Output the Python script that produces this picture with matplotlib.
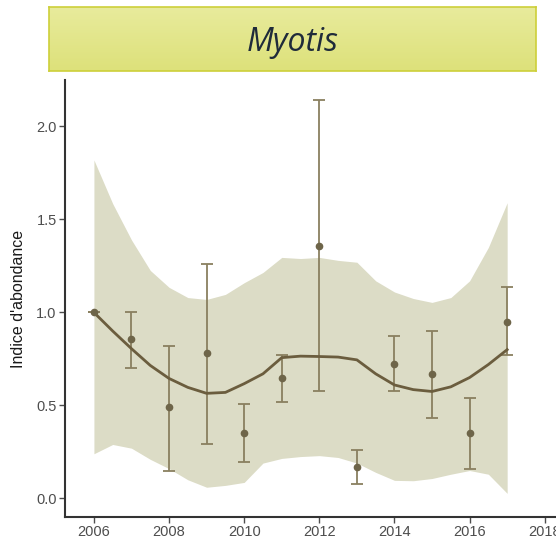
import numpy as np
import matplotlib
matplotlib.use("Agg")
import matplotlib.pyplot as plt
from matplotlib.colors import LinearSegmentedColormap

plt.rcParams["font.family"] = ["Liberation Sans", "DejaVu Sans"]

# yearly abundance index with error bars
years = [2006, 2007, 2008, 2009, 2010, 2011, 2012, 2013, 2014, 2015, 2016, 2017]
index = [1.00, 0.855, 0.49, 0.78, 0.35, 0.645, 1.36, 0.167, 0.725, 0.67, 0.35, 0.95]
err_low = [1.00, 0.70, 0.15, 0.29, 0.195, 0.52, 0.575, 0.075, 0.575, 0.43, 0.156, 0.77]
err_high = [1.00, 1.005, 0.82, 1.26, 0.51, 0.77, 2.145, 0.26, 0.876, 0.90, 0.54, 1.135]

# smoothed trend and its confidence band (read every half year)
smooth_x = [2006, 2006.5, 2007, 2007.5, 2008, 2008.5, 2009, 2009.5, 2010, 2010.5, 2011, 2011.5,
            2012, 2012.5, 2013, 2013.5, 2014, 2014.5, 2015, 2015.5, 2016, 2016.5, 2017]
smooth_y = [1.00, 0.90, 0.805, 0.715, 0.645, 0.597, 0.565, 0.57, 0.617, 0.67, 0.757, 0.765,
            0.763, 0.76, 0.745, 0.67, 0.61, 0.585, 0.575, 0.60, 0.65, 0.72, 0.80]
band_high = [1.82, 1.585, 1.39, 1.226, 1.135, 1.08, 1.07, 1.097, 1.16, 1.215, 1.296, 1.29,
             1.296, 1.28, 1.27, 1.17, 1.11, 1.075, 1.054, 1.08, 1.17, 1.35, 1.59]
band_low = [0.24, 0.29, 0.27, 0.21, 0.16, 0.10, 0.06, 0.07, 0.086, 0.19, 0.215, 0.225,
            0.23, 0.22, 0.19, 0.14, 0.097, 0.095, 0.107, 0.13, 0.15, 0.13, 0.027]

x_ticks = [2006, 2008, 2010, 2012, 2014, 2016, 2018]
y_ticks = [0.0, 0.5, 1.0, 1.5, 2.0]

fig = plt.figure(figsize=(5.56, 5.38), dpi=100)

# title banner with a soft vertical gradient
tax = fig.add_axes([49 / 556, 1 - 71 / 538, 487 / 556, 64 / 538])
grad = np.linspace(0, 1, 100).reshape(-1, 1)
cmap = LinearSegmentedColormap.from_list("banner", ["#e8eb9c", "#dde17a"])
tax.imshow(grad, aspect="auto", cmap=cmap, extent=[0, 1, 0, 1], origin="upper")
tax.set_xlim(0, 1)
tax.set_ylim(0, 1)
tax.set_xticks([])
tax.set_yticks([])
for s in tax.spines.values():
    s.set_color("#cdcf3a")
    s.set_linewidth(1.2)
tax.text(0.5, 0.45, "Myotis", ha="center", va="center", fontsize=23, style="italic",
         family=["Open Sans", "DejaVu Sans"], color="#1f2b3a")

ax = fig.add_axes([65 / 556, 21 / 538, 491 / 556, 437 / 538])
ax.fill_between(smooth_x, band_low, band_high, color="#dcdcc6", lw=0, zorder=1)
ax.plot(smooth_x, smooth_y, color="#6b5d3e", lw=2, zorder=3)

yerr = [np.array(index) - np.array(err_low), np.array(err_high) - np.array(index)]
ax.errorbar(years, index, yerr=yerr, fmt="none", ecolor="#8a8060", elinewidth=1.3,
            capsize=4, capthick=1.3, zorder=2)
ax.plot(years, index, "o", color="#6e6549", ms=4.5, zorder=4)

ax.set_xlim(2005.23, 2018.3)
ax.set_ylim(-0.10, 2.25)
ax.set_xticks(x_ticks)
ax.set_yticks(y_ticks)
ax.set_yticklabels([f"{v:.1f}" for v in y_ticks])
ax.tick_params(axis="both", labelsize=10.5, colors="#4d4d4d", length=4, width=1, pad=2)
ax.set_ylabel("Indice d'abondance", fontsize=11.5, color="#1a1a1a", labelpad=7)
ax.spines["top"].set_visible(False)
ax.spines["right"].set_visible(False)
for side in ("left", "bottom"):
    ax.spines[side].set_color("#333333")
    ax.spines[side].set_linewidth(1.5)
ax.set_facecolor("white")

fig.savefig("out.png", dpi=100)
